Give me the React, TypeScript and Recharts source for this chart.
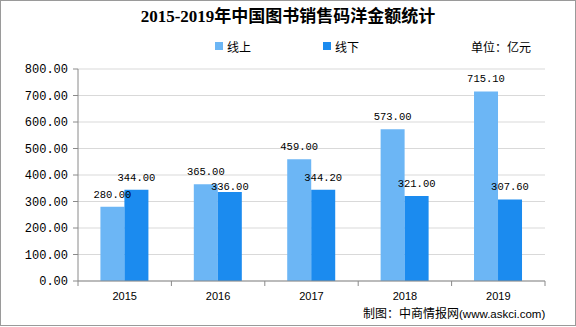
import React from 'react';
import { BarChart, Bar, XAxis, YAxis, CartesianGrid, LabelList } from 'recharts';

const years = ['2015', '2016', '2017', '2018', '2019'];
const online = [280, 365, 459, 573, 715.1];
const offline = [344, 336, 344.2, 321, 307.6];
const yTicks = [0, 100, 200, 300, 400, 500, 600, 700, 800];
const seriesNames = ['线上', '线下'];
const seriesColors = ['#6CB6F5', '#1B8BEF'];
const title = '2015-2019年中国图书销售码洋金额统计';
const unitText = '单位：亿元';
const sourceCn = '制图：中商情报网';
const sourceUrl = '(www.askci.com)';

const data = years.map((y, i) => ({ year: y, online: online[i], offline: offline[i] }));

const W = 576;
const H = 327;
const M = { top: 69, right: 31, bottom: 16, left: 0 };
const Y_W = 78;
const BAND = (W - M.left - M.right - Y_W) / years.length;
const AXIS = '#8a8a8a';
const MONO = "'Liberation Mono', 'DejaVu Sans Mono', monospace";
const CJK = "'Liberation Sans', 'Noto Sans CJK SC', sans-serif";

function XTick(props: any) {
  const { x, y, payload, index } = props;
  return (
    <g>
      <line x1={x + BAND / 2} x2={x + BAND / 2} y1={y - 5} y2={y} stroke={AXIS} />
      {index === 0 && <line x1={x - BAND / 2} x2={x - BAND / 2} y1={y - 5} y2={y} stroke={AXIS} />}
      <text x={x} y={y + 10} textAnchor="middle" dominantBaseline="central" fontSize={11}
        fontFamily="'Liberation Sans', Arial, sans-serif" fill="#000">{payload.value}</text>
    </g>
  );
}

function makeLabel(own: number[], other: number[]) {
  return (props: any) => {
    const { x, y, width, value, index } = props;
    // drop the label closer to its bar when the neighbouring bar's label would collide
    const close = Math.abs(other[index] - own[index]) < 40 && other[index] > own[index];
    const off = close ? 2 : 9;
    return (
      <text x={x + width / 2} y={y - off} textAnchor="middle" fontSize={10.5} fontFamily={MONO} fill="#000">
        {Number(value).toFixed(2)}
      </text>
    );
  };
}

export default function App() {
  return (
    <div style={{ position: 'absolute', left: 0, top: 0, width: W, height: H, background: '#fff', overflow: 'hidden' }}>
      <div style={{ position: 'absolute', left: 0, top: 0, width: W, height: 326, boxSizing: 'border-box', border: '1px solid #9a9a9a' }} />
      <div style={{ position: 'absolute', left: 0, top: 6, width: W, textAlign: 'center', fontSize: 17, fontWeight: 'bold', lineHeight: '22px', fontFamily: "'Liberation Serif', 'Noto Sans CJK SC', serif", color: '#000' }}>{title}</div>
      {seriesNames.map((n, i) => (
        <div key={n} style={{ position: 'absolute', left: 215 + i * 108, top: 38, height: 16, display: 'flex', alignItems: 'center', fontSize: 12, fontFamily: CJK, color: '#000' }}>
          <span style={{ display: 'inline-block', width: 8, height: 8, background: seriesColors[i], marginRight: 4 }} />
          <span>{n}</span>
        </div>
      ))}
      <div style={{ position: 'absolute', left: 471, top: 40, lineHeight: '16px', fontSize: 12, fontFamily: CJK, color: '#000' }}>{unitText}</div>
      <div style={{ position: 'absolute', left: 363, top: 305, lineHeight: '16px', whiteSpace: 'nowrap', color: '#000' }}>
        <span style={{ fontSize: 12, fontFamily: CJK }}>{sourceCn}</span>
        <span style={{ fontSize: 11.5, fontFamily: "'Liberation Sans', Arial, sans-serif" }}>{sourceUrl}</span>
      </div>
      <div style={{ position: 'absolute', left: 0, top: 0 }}>
        <BarChart width={W} height={H} data={data} margin={M} barCategoryGap="24%" barGap={0}>
          <CartesianGrid vertical={false} stroke="#d9d9d9" />
          <XAxis dataKey="year" height={30} tickLine={false} axisLine={{ stroke: AXIS }} tickSize={5} tickMargin={0} tick={<XTick />} interval={0} />
          <YAxis width={Y_W} domain={[0, 800]} ticks={yTicks} interval={0} tickFormatter={(v: number) => v.toFixed(2)}
            tick={{ fontSize: 12, fontFamily: MONO, fill: '#000' }} tickSize={5} tickMargin={5}
            tickLine={{ stroke: AXIS }} axisLine={{ stroke: AXIS }} />
          <Bar dataKey="online" fill={seriesColors[0]} isAnimationActive={false}>
            <LabelList dataKey="online" content={makeLabel(online, offline)} />
          </Bar>
          <Bar dataKey="offline" fill={seriesColors[1]} isAnimationActive={false}>
            <LabelList dataKey="offline" content={makeLabel(offline, online)} />
          </Bar>
        </BarChart>
      </div>
    </div>
  );
}
